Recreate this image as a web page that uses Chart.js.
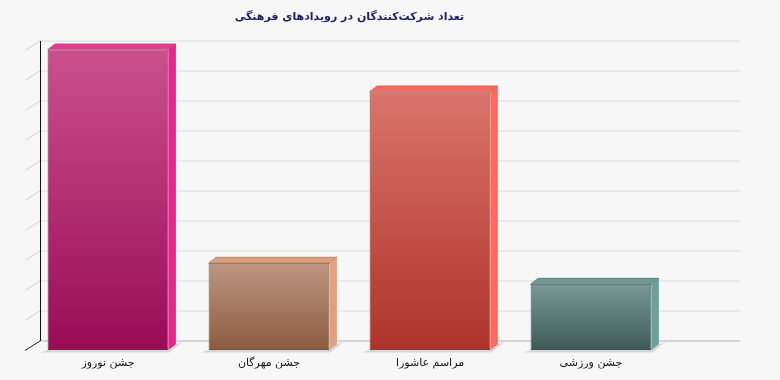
<!DOCTYPE html>
<html>
<head>
<meta charset="utf-8">
<script src="https://cdn.jsdelivr.net/npm/chart.js@4/dist/chart.umd.min.js"></script>
<style>
  html, body { margin: 0; padding: 0; background: #f7f7f7; }
  #wrap { width: 780px; height: 380px; }
</style>
</head>
<body>
<div id="wrap"><canvas id="c" width="780" height="380"></canvas></div>
<script>
// ---- data ----
const categories = ['جشن نوروز', 'جشن مهرگان', 'مراسم عاشورا', 'جشن ورزشی'];
const participants = [500, 145, 430, 110];
const yMin = 0;
const yMax = 500;
const yStep = 50;
const chartTitle = 'تعداد شرکت‌کنندگان در رویدادهای فرهنگی';

// ---- styles ----
const frontTop    = ['#ca518e', '#bd9781', '#da746c', '#799893'];
const frontBottom = ['#990c55', '#8b5b40', '#ad332a', '#3d5a57'];
const sideColors  = ['#e8238a', '#e2a07c', '#ff6a5c', '#6ea09b'];
const topColors   = ['#e33d8f', '#dc9d7c', '#f7695e', '#6f9995'];
const borderCols  = ['#86204f', '#7a5039', '#8e3a33', '#3b5552'];

const DX = 15, DY = -9.5;     // wall depth
const BDX = 7.5, BDY = -5.7;  // bar depth

const threeD = {
  id: 'threeD',
  beforeDatasetsDraw(chart) {
    const ctx = chart.ctx;
    const y = chart.scales.y;
    const ca = chart.chartArea;
    const wallLeft = ca.left - 2.5;
    const backRight = 740;
    const vals = [];
    for (let v = yMin; v <= yMax + 1e-9; v += yStep) vals.push(v);
    ctx.save();
    ctx.lineWidth = 1;
    vals.forEach(v => {
      const py = Math.round(y.getPixelForValue(v)) + 0.5;
      const isBase = v === yMin;
      ctx.strokeStyle = isBase ? '#b4b4b4' : '#dcdcdc';
      ctx.beginPath();
      ctx.moveTo(wallLeft + DX, py + DY);
      ctx.lineTo(backRight, py + DY);
      ctx.stroke();
      ctx.strokeStyle = isBase ? '#222222' : '#d0d0d0';
      ctx.beginPath();
      ctx.moveTo(wallLeft, py);
      ctx.lineTo(wallLeft + DX, py + DY);
      ctx.stroke();
    });
    const yTop = Math.round(y.getPixelForValue(yMax)) + 0.5 + DY;
    const yBot = Math.round(y.getPixelForValue(yMin)) + 0.5 + DY;
    ctx.strokeStyle = '#111111';
    ctx.beginPath();
    ctx.moveTo(Math.round(wallLeft + DX) + 0.5, yTop);
    ctx.lineTo(Math.round(wallLeft + DX) + 0.5, yBot);
    ctx.stroke();

    const meta = chart.getDatasetMeta(0);
    ctx.fillStyle = '#d6d6d6';
    meta.data.forEach(bar => {
      const l = bar.x - bar.width / 2, r = bar.x + bar.width / 2, b = bar.base;
      ctx.beginPath();
      ctx.moveTo(l - 7, b + 2.5);
      ctx.lineTo(r + 1, b + 2.5);
      ctx.lineTo(r + 14, b - 8);
      ctx.lineTo(r + BDX, b + BDY);
      ctx.lineTo(r, b);
      ctx.lineTo(l, b);
      ctx.closePath();
      ctx.fill();
    });
    ctx.restore();
  },
  afterDatasetsDraw(chart) {
    const ctx = chart.ctx;
    const meta = chart.getDatasetMeta(0);
    ctx.save();
    meta.data.forEach((bar, i) => {
      const l = bar.x - bar.width / 2, r = bar.x + bar.width / 2;
      const t = bar.y, b = bar.base;
      ctx.fillStyle = sideColors[i];
      ctx.beginPath();
      ctx.moveTo(r, t);
      ctx.lineTo(r + BDX, t + BDY);
      ctx.lineTo(r + BDX, b + BDY);
      ctx.lineTo(r, b);
      ctx.closePath();
      ctx.fill();
      ctx.fillStyle = topColors[i];
      ctx.beginPath();
      ctx.moveTo(l, t);
      ctx.lineTo(l + BDX, t + BDY);
      ctx.lineTo(r + BDX, t + BDY);
      ctx.lineTo(r, t);
      ctx.closePath();
      ctx.fill();
      ctx.strokeStyle = 'rgba(0,0,0,0.18)';
      ctx.lineWidth = 1;
      ctx.stroke();
    });
    ctx.restore();
  }
};

new Chart(document.getElementById('c'), {
  type: 'bar',
  data: {
    labels: categories,
    datasets: [{
      data: participants,
      backgroundColor(context) {
        const chart = context.chart;
        const y = chart.scales.y;
        const i = context.dataIndex;
        if (!chart.chartArea || !y || i === undefined) return frontTop[i || 0];
        const top = y.getPixelForValue(participants[i]);
        const bottom = y.getPixelForValue(0);
        const g = chart.ctx.createLinearGradient(0, top, 0, bottom);
        g.addColorStop(0, frontTop[i]);
        g.addColorStop(1, frontBottom[i]);
        return g;
      },
      borderColor: borderCols,
      borderWidth: 1,
      borderSkipped: false,
      barPercentage: 0.75,
      categoryPercentage: 1.0
    }]
  },
  options: {
    responsive: false,
    animation: false,
    layout: { padding: { left: 27.5, right: 108.5, top: 0, bottom: 11.5 } },
    plugins: {
      legend: { display: false },
      tooltip: { enabled: false },
      title: {
        display: true,
        text: chartTitle,
        color: '#1c1c6e',
        font: { family: 'DejaVu Sans', size: 11, weight: 'bold' },
        padding: { top: 10.5, bottom: 25.8 }
      }
    },
    scales: {
      x: {
        grid: { display: false },
        border: { display: false },
        ticks: {
          color: '#111111',
          font: { family: 'DejaVu Sans', size: 11 },
          padding: -1.3
        }
      },
      y: {
        display: false,
        min: yMin,
        max: yMax,
        ticks: { stepSize: yStep }
      }
    }
  },
  plugins: [threeD]
});
</script>
</body>
</html>
